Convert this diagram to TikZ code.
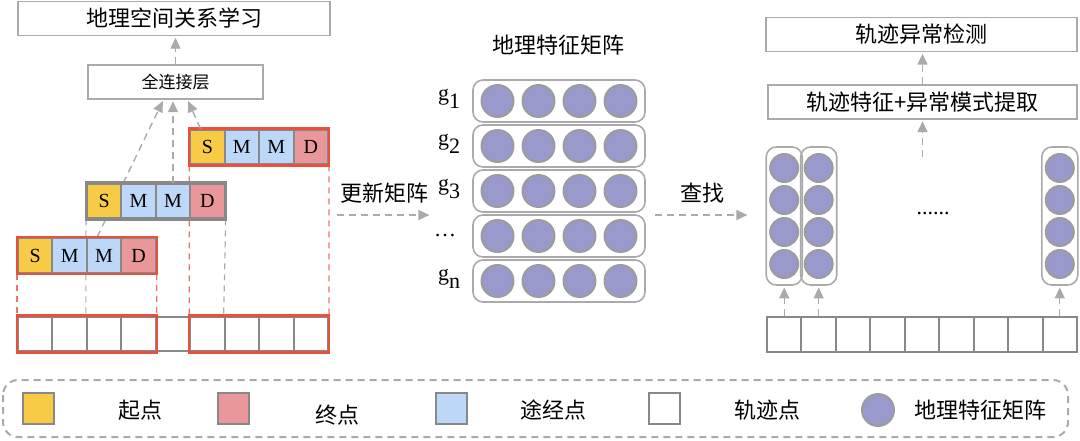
\documentclass[tikz,border=0pt]{standalone}
\usepackage{fontspec}
\setmainfont{Liberation Serif}
\newfontfamily\cjk{Noto Sans CJK SC}
\usetikzlibrary{arrows.meta,backgrounds}

\definecolor{startc}{HTML}{F8CB46}
\definecolor{endc}{HTML}{E9979A}
\definecolor{midc}{HTML}{BCD7F7}
\definecolor{redc}{HTML}{E8503F}
\definecolor{cellc}{HTML}{888888}
\definecolor{linec}{HTML}{AAAAAA}
\definecolor{geoc}{HTML}{9999CC}
\definecolor{geobd}{HTML}{9C9C9C}

\newcommand{\gsub}[1]{g\raisebox{-0.35em}{#1}}

\begin{document}
\begin{tikzpicture}[x=0.5pt, y=-0.5pt,
    lbl/.style={font=\cjk\fontsize{11}{13}\selectfont},
    titlebox/.style={draw=linec, line width=0.6pt, inner sep=0pt, minimum height=17pt, lbl},
    cell/.style={draw=cellc, line width=1pt, minimum width=17.22pt, minimum height=17.4pt, inner sep=0pt, font=\fontsize{10}{12}\selectfont},
    geo/.style={circle, draw=geobd, fill=geoc, line width=1pt, minimum size=16pt, inner sep=0pt},
    rowbox/.style={draw=linec, line width=0.8pt, rounded corners=5pt, minimum width=86pt, minimum height=21pt},
    colbox/.style={draw=linec, line width=0.8pt, rounded corners=5pt, minimum width=18pt, minimum height=69pt},
    legbox/.style={draw=cellc, line width=1pt, minimum width=15.5pt, minimum height=15.5pt, inner sep=0pt},
    flow/.style={draw=linec, line width=0.7pt, dash pattern=on 3.5pt off 2.5pt, shorten >=0.8pt, -{Triangle[length=5.5pt,width=5pt]}},
    guide/.style={line width=0.6pt, dash pattern=on 3pt off 2.5pt}]
  \useasboundingbox (0,0) rectangle (1080,440);

  % left part: learning of spatial relations
  \node[titlebox, minimum width=156pt] (t1) at (174, 18.5) {地理空间关系学习};
  \node[titlebox, minimum width=87.5pt, font=\cjk\fontsize{8.5}{10}\selectfont] (fc) at (175.5, 82) {全连接层};
  \draw[flow] (fc.north) -- (fc.north |- t1.south);

  \foreach \n/\x/\y in {a/18/255.5, b/86.9/201, c/190.2/147} {
    \node[cell, fill=startc] (\n1) at (\x+17.22, \y) {S};
    \node[cell, fill=midc] (\n2) at (\x+51.66, \y) {M};
    \node[cell, fill=midc] (\n3) at (\x+86.1, \y) {M};
    \node[cell, fill=endc] (\n4) at (\x+120.54, \y) {D};
  }
  \draw[redc, line width=1.2pt] (a1.north west) rectangle (a4.south east);
  \draw[cellc, line width=1.2pt] (b1.north west) rectangle (b4.south east);
  \draw[redc, line width=1.2pt] (c1.north west) rectangle (c4.south east);

  \foreach \i in {1,...,9}
    \node[cell, fill=white] (r\i) at (18+34.44*\i-17.22, 334) {};
  \draw[redc, line width=1.2pt] (r1.north west) rectangle (r4.south east);
  \draw[redc, line width=1.2pt] (r6.north west) rectangle (r9.south east);

  \begin{scope}[on background layer]
    \draw[flow] ([xshift=-3.5pt]a3.north) -- ([xshift=-6pt]fc.south);
    \draw[guide, redc!80] (a1.south west) -- (r1.north west);
    \draw[guide, redc!80] (a4.south east) -- (r4.north east);
    \draw[guide, redc!80] (c1.south west) -- (r6.north west);
    \draw[guide, redc!80] (c4.south east) -- (r9.north east);
    \draw[guide, linec] (b1.south west) -- (r3.north west);
    \draw[guide, linec] (b4.south east) -- (r7.north west);
  \end{scope}
  \draw[flow] (b3.north) -- (b3.north |- fc.south);
  \draw[flow] ([xshift=-3.5pt]c1.north) -- ([xshift=6pt]fc.south);

  % geographic feature matrix
  \node[lbl] (mt) at (558, 45) {地理特征矩阵};
  \foreach \i/\y in {1/101, 2/146, 3/191, 4/236, 5/281} {
    \node[rowbox] (m\i) at (559, \y) {};
    \foreach \j/\x in {1/497.5, 2/538.5, 3/579.5, 4/620.5}
      \node[geo] (m\i\j) at (\x, \y) {};
  }
  \node[font=\fontsize{11}{13}\selectfont] (g1) at (449, 99) {\gsub{1}};
  \node[font=\fontsize{11}{13}\selectfont] (g2) at (449, 144) {\gsub{2}};
  \node[font=\fontsize{11}{13}\selectfont] (g3) at (449, 189) {\gsub{3}};
  \node[font=\fontsize{11}{13}\selectfont] (g4) at (445, 236) {\dots};
  \node[font=\fontsize{11}{13}\selectfont] (g5) at (449, 279) {\gsub{n}};

  \coordinate (u1) at (337, 215);
  \coordinate (u2) at (431, 215);
  \draw[flow] (u1) -- node[lbl, above=2pt] {更新矩阵} (u2);
  \coordinate (v1) at (655, 215);
  \coordinate (v2) at (749, 215);
  \draw[flow] (v1) -- node[lbl, above=2pt] {查找} (v2);

  % right part: anomaly detection
  \foreach \i in {1,...,9}
    \node[cell, fill=white] (q\i) at (767+34.44*\i-17.22, 334.5) {};
  \foreach \k/\x in {1/784.2, 2/818.7, 3/1059.8} {
    \node[colbox] (k\k) at (\x, 216) {};
    \foreach \j/\y in {1/168, 2/200, 3/232, 4/264}
      \node[geo, minimum size=14pt] (k\k\j) at (\x, \y) {};
  }
  \draw[flow] (q1.north) -- (q1.north |- k1.south);
  \draw[flow] (q2.north) -- (q2.north |- k2.south);
  \draw[flow] (q9.north) -- (q9.north |- k3.south);
  \node[font=\fontsize{11}{13}\selectfont] (dots) at (933, 214) {......};

  \node[titlebox, minimum width=155.5pt] (d1) at (921.5, 34.5) {轨迹异常检测};
  \node[titlebox, minimum width=154.5pt] (d2) at (922.5, 102) {轨迹特征+异常模式提取};
  \coordinate (d0) at (922.5, 157);
  \draw[flow] (d2.north) -- (d2.north |- d1.south);
  \draw[flow] (d0) -- (d2.south);

  % legend
  \draw[linec, line width=1pt, dash pattern=on 3.5pt off 2.5pt, rounded corners=7.5pt] (3,380) rectangle (1068,437);
  \node[legbox, fill=startc] (l1) at (38.5, 408.5) {};
  \node[lbl] (l1t) at (140, 410) {起点};
  \node[legbox, fill=endc] (l2) at (233.5, 408.5) {};
  \node[lbl] (l2t) at (337, 415) {终点};
  \node[legbox, fill=midc] (l3) at (451, 408.5) {};
  \node[lbl] (l3t) at (553, 410) {途经点};
  \node[legbox, fill=white] (l4) at (664, 408.5) {};
  \node[lbl] (l4t) at (767, 410) {轨迹点};
  \node[geo] (l5) at (878, 410) {};
  \node[lbl] (l5t) at (980, 410) {地理特征矩阵};
\end{tikzpicture}
\end{document}
